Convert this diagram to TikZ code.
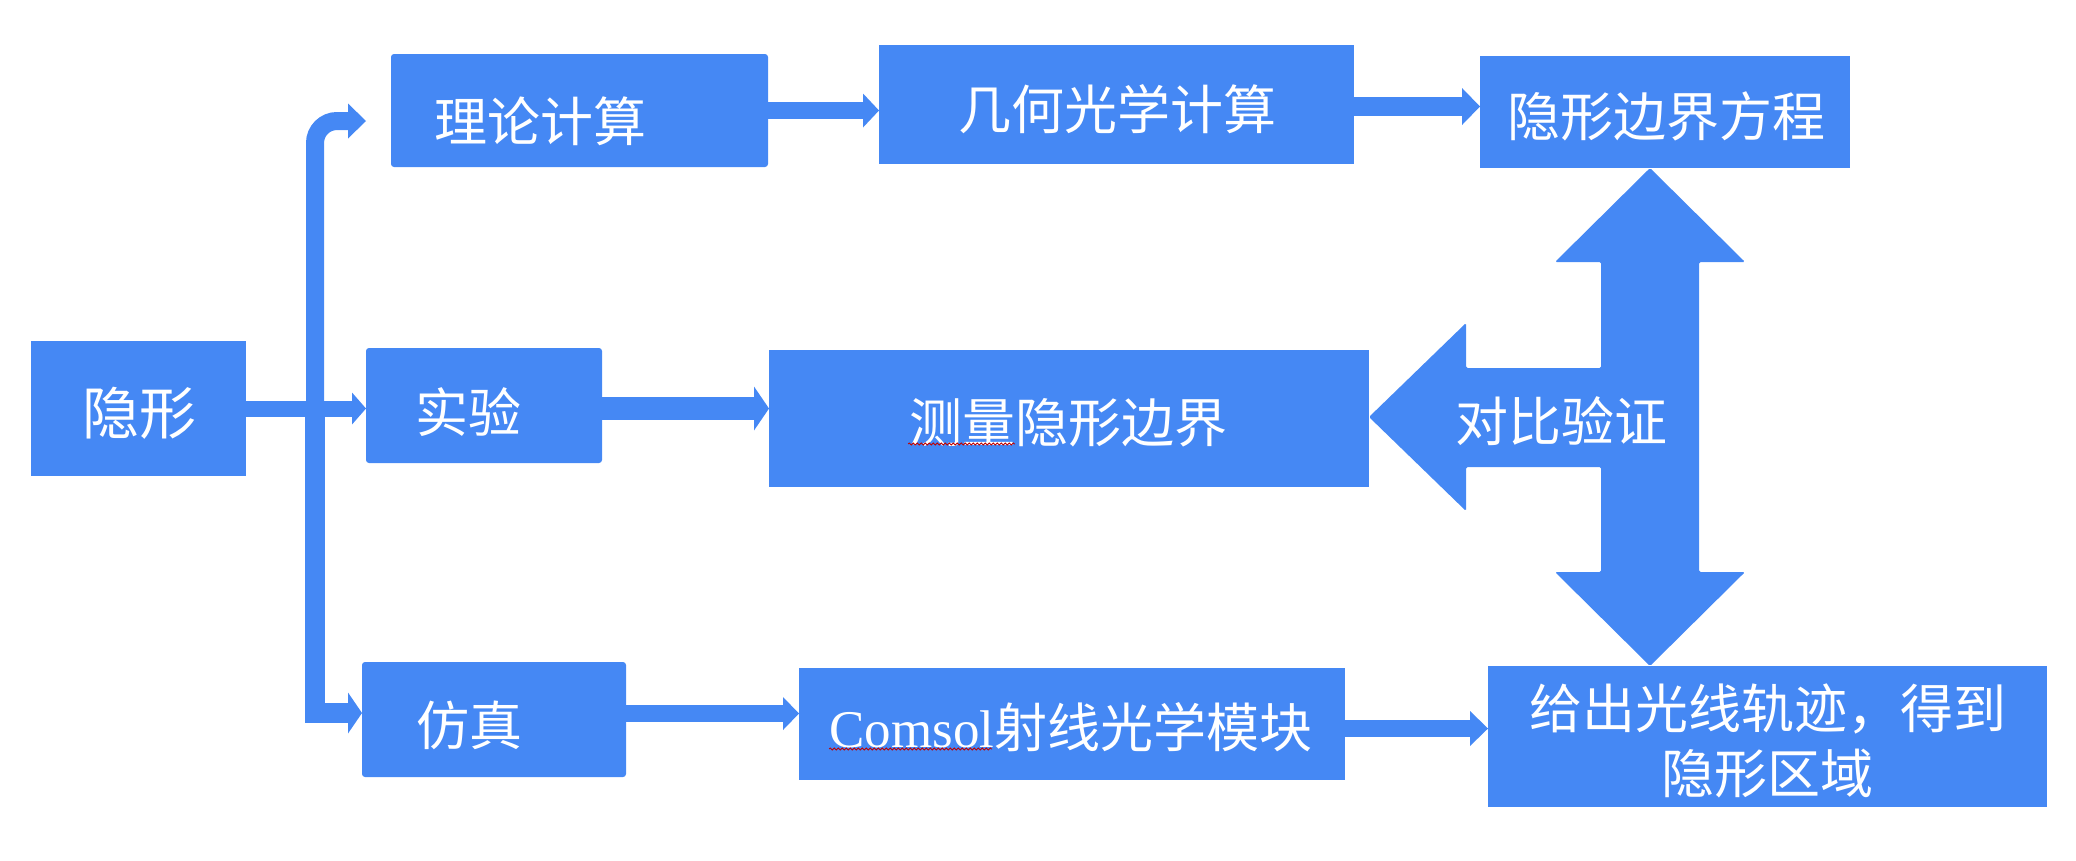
\documentclass[tikz,border=0pt]{standalone}
\usepackage{fontspec}
\setmainfont{Noto Sans CJK SC}
\newfontfamily\latinserif{Liberation Serif}
\usetikzlibrary{arrows.meta,calc,decorations.pathmorphing}
\definecolor{fblue}{RGB}{69,136,244}
\begin{document}
\begin{tikzpicture}[x=1pt,y=-1pt,
  box/.style={fill=fblue, draw=none, inner sep=0pt, outer sep=0pt},
  rbox/.style={box, rounded corners=3pt},
  txt/.style={text=white, inner sep=0pt, font=\fontsize{53}{65}\selectfont},
  conn/.style={draw=fblue, line width=17pt, -{Triangle[length=16pt,width=34pt,line width=0pt]}},
  wavy/.style={draw=red!75!black, line width=0.8pt, decorate, decoration={snake, amplitude=1pt, segment length=4pt}}]
\useasboundingbox (0,0) rectangle (2076,860);

% boxes
\node[box, minimum width=215pt, minimum height=135pt] (yx) at (138.5,408.5) {};
\node[rbox, minimum width=377pt, minimum height=113pt] (ll) at (579.5,110.5) {};
\node[rbox, minimum width=236pt, minimum height=115pt] (sy) at (484,405.5) {};
\node[rbox, minimum width=264pt, minimum height=115pt] (fz) at (494,719.5) {};
\node[box, minimum width=475pt, minimum height=119pt] (jh) at (1116.5,104.5) {};
\node[box, minimum width=600pt, minimum height=137pt] (ms) at (1069,418.5) {};
\node[box, minimum width=546pt, minimum height=112pt] (cm) at (1072,724) {};
\node[box, minimum width=370pt, minimum height=112pt] (eq) at (1665,112) {};
\node[box, minimum width=559pt, minimum height=141pt] (res) at (1767.5,736.5) {};

% texts
\node[txt, font=\fontsize{57}{65}\selectfont] (t-yx) at (139,413.5) {隐形};
\node[txt] (t-ll) at (540,121) {理论计算};
\node[txt] (t-sy) at (468.5,412) {实验};
\node[txt] (t-fz) at (469,725) {仿真};
\node[txt] (t-jh) at (1117,109) {几何光学计算};
\node[txt] (t-ms) at (1068.5,422.5) {测量隐形边界};
\node[txt] (t-cm) at (1071,727.5) {{\latinserif Comsol}射线光学模块};
\node[txt] (t-eq) at (1666,116.5) {隐形边界方程};
\node[txt, align=center] (t-res) at (1767.5,741) {\makebox[477pt][s]{给\hfill 出\hfill 光\hfill 线\hfill 轨\hfill 迹\hfill ，\hfill 得\hfill 到}\\隐形区域};

% spell-check underlines
\draw[wavy] (908,444) -- (1015,444);
\draw[wavy] (829,749) -- (992,749);

% connectors
\draw[conn, line width=16pt, -{Triangle[length=14pt,width=32pt,line width=0pt]}] (yx.east) -- (yx.east -| sy.west);
\draw[conn] (ll.east) -- (ll.east -| jh.west);
\draw[conn, line width=19pt, -{Triangle[length=18pt,width=37pt,line width=0pt]}] ([yshift=-2pt]jh.east) -- ([yshift=-2pt]jh.east -| eq.west);
\draw[conn, line width=23pt, -{Triangle[length=15pt,width=44pt,line width=0pt]}] ([yshift=-3pt]sy.east) -- ([yshift=-3pt]sy.east -| ms.west);
\draw[conn, -{Triangle[length=16pt,width=33pt,line width=0pt]}] ([yshift=6pt]fz.east) -- ([yshift=6pt]fz.east -| cm.west);
\draw[conn, -{Triangle[length=18pt,width=35pt,line width=0pt]}] ([yshift=-4.5pt]cm.east) -- ([yshift=-4.5pt]cm.east -| res.west);

% branch line
\coordinate (bm) at (315,409);
\coordinate (bt) at (366,121);
\draw[conn, line width=20pt, -{Triangle[length=14pt,width=41pt,line width=0pt]}] (bm) |- ([yshift=6.5pt]fz.west);
\draw[conn, line width=18pt, rounded corners=22pt, -{Triangle[length=18pt,width=35pt,line width=0pt]}] (bm) |- (bt);

% big compare arrow
\coordinate (T) at (eq.south -| 1650,0);
\coordinate (B) at (res.north -| 1650,0);
\coordinate (L) at (ms.east |- 0,417);
\coordinate (C) at (1650,417);
\fill[fblue, rounded corners=1.5pt] (T) -- ($(T)+(95,94)$) -- ($(T)+(49,94)$) -- ($(B)+(49,-94)$) -- ($(B)+(95,-94)$) -- (B)
  -- ($(B)+(-95,-94)$) -- ($(B)+(-49,-94)$) -- ($(C)+(-49,50)$) -- ($(L)+(97,50)$) -- ($(L)+(97,94)$) -- (L)
  -- ($(L)+(97,-94)$) -- ($(L)+(97,-49)$) -- ($(C)+(-49,-49)$) -- ($(T)+(-49,94)$) -- ($(T)+(-95,94)$) -- cycle;
\node[txt] (t-cmp) at (1561,421) {对比验证};
\end{tikzpicture}
\end{document}
